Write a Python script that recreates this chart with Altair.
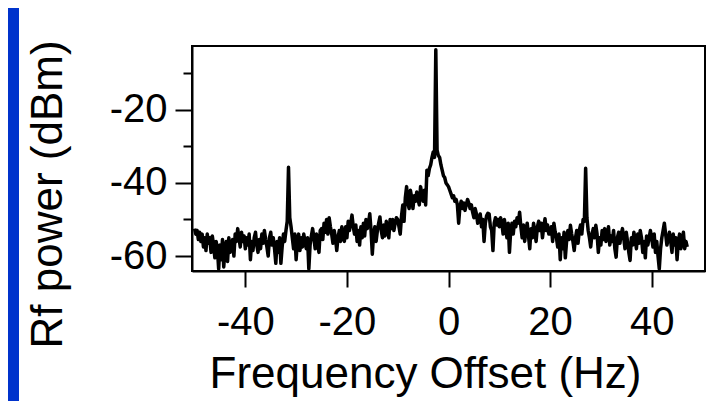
import altair as alt
import numpy as np
import pandas as pd

# Frequency grid (Hz), 0.25 Hz spacing from -50 to 47
freq = np.arange(-50.0, 47.001, 0.25)

# Rf power (dBm), one row per 10 Hz
power_m50 = [-52.5, -54, -53, -55.5, -53.5, -56, -54, -57.5, -55, -58.5,
             -54, -56.5, -55, -59, -54.5, -57, -60.5, -56, -58, -63.5,
             -57, -61, -55.5, -63, -58, -56, -61.5, -55, -59, -57,
             -55.5, -60, -54, -56, -52.5, -55, -57.5, -53.5, -56, -54.5]
power_m40 = [-58, -55, -57, -54, -61, -56, -58.5, -55, -53.5, -57,
             -59, -55.5, -58, -54, -56.5, -53, -55.5, -57.5, -60, -55,
             -53.5, -57, -55, -58, -62, -56, -59, -55, -62, -57.5,
             -54, -56, -53, -50.5, -35.7, -49.5, -52, -55, -58, -54]
power_m30 = [-61, -56, -54, -58.5, -55, -57.5, -54, -56, -58, -55,
             -63.5, -57, -54.5, -52.5, -55, -58, -54, -57, -59, -53,
             -52.5, -55.5, -51, -53.5, -50, -54, -49.5, -52, -54, -56.5,
             -53, -55, -58.5, -55, -53, -56, -52, -54.5, -56, -52]
power_m20 = [-55, -50.5, -53, -51, -48.8, -52, -54, -51.5, -56, -53,
             -57, -52, -55, -51, -54.5, -50, -52.5, -51, -48.4, -53,
             -59.5, -54, -52, -56, -53, -51, -49.3, -53, -55, -51.5,
             -54.5, -50.5, -52, -55, -50, -52.5, -50, -53, -51, -49.5]
power_m10 = [-50, -52, -54, -49, -46, -50.5, -44, -41, -45.5, -47,
             -42, -44, -47, -43.5, -45, -42.5, -44.5, -46, -41, -43,
             -45, -42, -46, -36.5, -38, -36, -35, -33, -31.5, -33,
             -3.5, -31, -32.5, -33, -35, -36.5, -38, -38.5, -40, -40.5]
power_p0 = [-41, -42, -43, -44, -43.5, -45, -44.5, -46, -51, -46.5,
            -45, -47, -45.5, -47.5, -46, -44.5, -45.5, -47, -46, -48,
            -49.5, -47, -48.5, -51, -50, -48.5, -52, -50, -56, -51,
            -49, -48.3, -48.5, -52, -53, -58.5, -51, -49.5, -51.5, -50]
power_p10 = [-52, -49.5, -51, -54, -50, -52.5, -55, -51, -59, -53,
             -51, -54, -50.5, -52, -49.5, -51, -48, -52, -55, -51.5,
             -56, -53, -51, -54.5, -58, -52.5, -55, -51, -53.5, -56,
             -52, -50.5, -53, -51, -55, -52, -49.8, -53, -51.5, -54]
power_p20 = [-54, -52, -56, -51, -53.4, -55, -57.5, -54, -61, -55,
             -58, -53.5, -60.5, -56, -53, -55.5, -51.6, -54, -56, -58.5,
             -55, -53, -56.5, -53, -51.5, -54, -50, -50.5, -36, -49.5,
             -53, -55, -57.5, -54, -52.5, -55, -51.6, -54, -59, -55]
power_p30 = [-57, -53, -55.5, -52.5, -56, -54, -52, -57, -54.5, -56,
             -53, -58, -60.3, -55, -53.5, -56.5, -54, -52.5, -55, -58,
             -53.5, -56, -59, -61.2, -55, -57, -53.5, -55.5, -58, -54,
             -56.5, -53, -55, -59, -56, -60.5, -54.5, -57, -55, -53]
power_p40 = [-55, -57.5, -54, -59, -56, -60, -63.5, -58, -55, -53,
             -51, -54, -57, -55.5, -53.5, -56, -59, -54, -57, -55,
             -61, -56, -54, -58, -55.5, -53.5, -58, -56, -57.5]

power = (power_m50 + power_m40 + power_m30 + power_m20 + power_m10 +
         power_p0 + power_p10 + power_p20 + power_p30 + power_p40)

x_ticks = [-40, -20, 0, 20, 40]
y_ticks = [-60, -50, -40, -30, -20, -10]

n = min(len(freq), len(power))
df = pd.DataFrame({"f": freq[:n], "p": power[:n]})

FONT = "Liberation Sans"

x_enc = alt.X(
    "f:Q",
    scale=alt.Scale(domain=[-50.5, 50.5], nice=False, zero=False),
    axis=alt.Axis(
        values=x_ticks,
        title="Frequency Offset (Hz)",
        grid=False,
        tickSize=16,
        tickWidth=2,
        tickColor="black",
        domainColor="black",
        domainWidth=2,
        labelFont=FONT,
        labelFontSize=40,
        labelColor="black",
        labelPadding=15,
        labelExpr="'' + datum.value",
        titleFont=FONT,
        titleFontSize=44,
        titleFontWeight="normal",
        titleColor="black",
        titleX=233,
        titleY=116,
        titleAlign="center",
        titleBaseline="alphabetic",
    ),
)

y_enc = alt.Y(
    "p:Q",
    scale=alt.Scale(domain=[-64.1, -2.5], nice=False, zero=False),
    axis=alt.Axis(
        values=y_ticks,
        title="Rf power (dBm)",
        grid=False,
        tickSize=alt.condition("datum.value % 20 == 0", alt.value(17), alt.value(9)),
        tickWidth=2,
        tickColor="black",
        domainColor="black",
        domainWidth=2,
        labelFont=FONT,
        labelFontSize=40,
        labelColor="black",
        labelPadding=8,
        labelExpr="datum.value % 20 == 0 ? '' + datum.value : ''",
        titleFont=FONT,
        titleFontSize=44,
        titleFontWeight="normal",
        titleColor="black",
        titleX=-131,
        titleY=148,
        titleAngle=270,
        titleAlign="center",
        titleBaseline="alphabetic",
    ),
)

line = alt.Chart(df).mark_line(
    color="black", strokeWidth=3.5, strokeJoin="round", clip=True
).encode(x=x_enc, y=y_enc)

bar = alt.Chart(pd.DataFrame({"a": [0]})).mark_rect(color="#0033cc", clip=False).encode(
    x=alt.value(-184), x2=alt.value(-173), y=alt.value(-38), y2=alt.value(400)
)

chart = alt.layer(bar, line).properties(
    width=513,
    height=225,
    autosize=alt.AutoSizeParams(type="none"),
    padding={"left": 184, "top": 38, "right": 6, "bottom": 140},
).configure_view(stroke="black", strokeWidth=2)

chart.save("out.html", embed_options={"renderer": "svg", "actions": False})
